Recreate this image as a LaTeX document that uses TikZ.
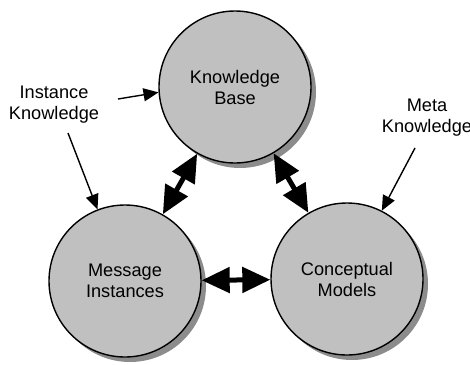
\documentclass[tikz,border=0pt]{standalone}
\usepackage{fontspec}
\setmainfont{Liberation Sans}
\usetikzlibrary{arrows.meta,shadows}
\definecolor{ballfill}{RGB}{192,192,192}
\definecolor{ballshadow}{RGB}{140,140,140}
\begin{document}
\begin{tikzpicture}[x=0.5pt, y=-0.5pt,
  every node/.style={font=\fontsize{9.1}{10.5}\selectfont, align=center},
  ball/.style={circle, draw, line width=0.7pt, fill=ballfill, inner sep=0pt,
    minimum size=76pt,
    drop shadow={shadow xshift=2.5pt, shadow yshift=-2.5pt, fill=ballshadow, opacity=1}},
  link/.style={line width=2.5pt, {Triangle[length=14pt, width=12.5pt]}-{Triangle[length=14pt, width=12.5pt]}},
  feed/.style={line width=0.7pt, -{Triangle[length=7.5pt, width=6.5pt]}}]
  \useasboundingbox (0, 0) rectangle (470, 364);
  \node[ball] (kb) at (235, 87) {Knowledge\\Base};
  \node[ball] (mi) at (125, 281) {Message\\Instances};
  \node[ball] (cm) at (347, 279) {Conceptual\\Models};
  \node (ik) at (54, 105) {Instance\\Knowledge};
  \node (mk) at (427, 118) {Meta\\Knowledge};
  % links between the three stores
  \draw[link] (kb) -- (mi);
  \draw[link] (kb) -- (cm);
  \draw[link] (mi) -- (cm);
  % knowledge feeding in
  \coordinate (ik-kb) at (118, 99);
  \coordinate (ik-mi) at (68, 133);
  \coordinate (mk-cm) at (415, 148);
  \draw[feed] (ik-kb) -- (kb.184);
  \draw[feed] (ik-mi) -- (mi.111);
  \draw[feed] (mk-cm) -- (cm.63);
\end{tikzpicture}
\end{document}
